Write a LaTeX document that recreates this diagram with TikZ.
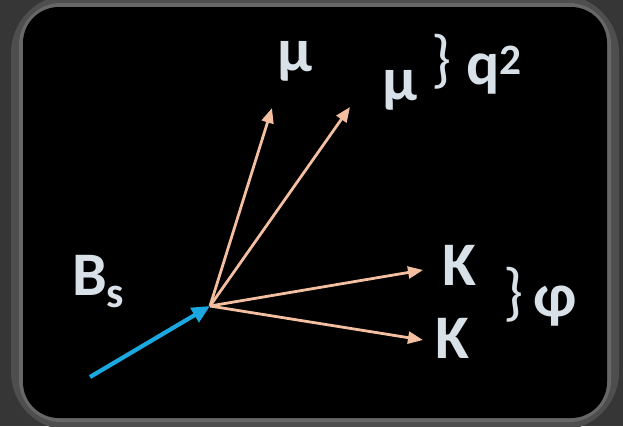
\documentclass[tikz,border=0pt]{standalone}
\usepackage{fontspec}
\setmainfont{Carlito}
\usetikzlibrary{arrows.meta}
\definecolor{bgray}{HTML}{363636}
\definecolor{rimgray}{HTML}{4E4E4E}
\definecolor{rimlight}{HTML}{676767}
\definecolor{txt}{HTML}{D8E0E8}
\definecolor{salmon}{HTML}{F4BFA0}
\definecolor{bsblue}{HTML}{1BA8E0}
\tikzset{
  lab/.style={text=txt, font=\fontsize{62}{64}\selectfont\bfseries, inner sep=0pt, anchor=base},
  brace/.style={text=txt, font=\fontsize{64}{66}\selectfont, inner sep=0pt, anchor=base},
  decay/.style={draw=salmon, line width=2.8pt, -{Triangle[length=15pt,width=12pt]}},
  beam/.style={draw=bsblue, line width=4.2pt, -{Triangle[length=18pt,width=16pt]}}
}
\begin{document}
\begin{tikzpicture}[x=1pt,y=-1pt]
\useasboundingbox (0,0) rectangle (623,426);
\fill[bgray] (0,0) rectangle (623,426);
\draw[rimgray, line width=24pt, rounded corners=46pt] (23,7) rectangle (607,418);
\draw[rimlight, line width=8pt, rounded corners=38pt] (23,7) rectangle (607,418);
\fill[black, rounded corners=36pt] (23,7) rectangle (607,418);
% vertex and ends
\coordinate (v) at (210,306);
\coordinate (bsstart) at (90,377);
\coordinate (m1) at (272,108);
\coordinate (m2) at (350,107);
\coordinate (k1) at (423,270);
\coordinate (k2) at (423,340);
\draw[decay] (v) -- (m1);
\draw[decay] (v) -- (m2);
\draw[decay] (v) -- (k1);
\draw[decay] (v) -- (k2);
\draw[beam] (bsstart) -- (v);
% labels
\node[lab] (mu1) at (295,71) {μ};
\node[lab] (mu2) at (400,100) {μ};
\node[brace] (br1) at (442,80) {\}};
\node[lab, anchor=base west] (q2) at (466,84) {q\textsuperscript{2}};
\node[lab] (ka) at (459,285) {K};
\node[lab] (kb) at (452,358) {K};
\node[brace] (br2) at (514,313) {\}};
\node[lab] (phi) at (555,316) {φ};
\node[lab, anchor=base west] (bs) at (72,295) {B\textsubscript{s}};
\end{tikzpicture}
\end{document}
